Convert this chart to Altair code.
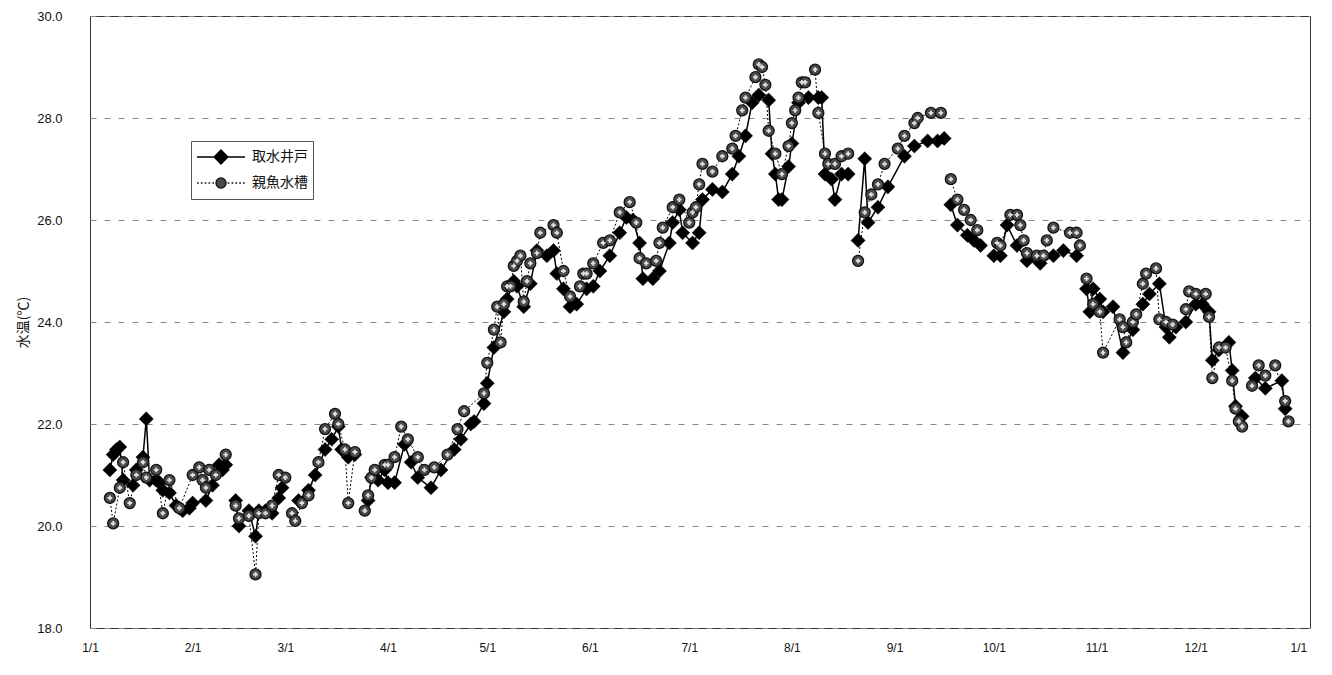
import altair as alt
import pandas as pd

series_names = ["取水井戸", "親魚水槽"]
month_days = [0, 31, 59, 90, 120, 151, 181, 212, 243, 273, 304, 334, 365]
month_labels = ["1/1", "2/1", "3/1", "4/1", "5/1", "6/1", "7/1", "8/1",
                "9/1", "10/1", "11/1", "12/1", "1/1"]
y_ticks = [18, 20, 22, 24, 26, 28, 30]

# 取水井戸 (day of year, °C); None marks a break in the record
well_days = [6, 7, 8, 9, 10, 13, 14, 16, 17, 18, 20, 21, 22, 24, 26, 27, 28, 30, 31,
             35, 37, 39, 40, 41, 42, 44, 45, 48, 50, 51, 53, 55, 57, 58, 60,
             63, 66, 68, 71, 73, 75, 76, 78, 80, 82, 84, 85, 87, 89, 90,
             92, 95, 97, 99, 103, 106, 110, 112, 115, 116, 119, 120,
             122, 125, 126, 128, 129, 131, 133, 135, 138, 140, 141, 143, 145, 147, 150, 152,
             154, 157, 160, 162, 164, 166, 167, 170, 172, 175, 176, 178, 179, 182,
             184, 185, 188, 191, 194, 196, 198, 200, 202, 205, 206, 207, 208, 209, 211, 212,
             214, 217, 220, 221, 222, 224, 225, 227, 229, 230, 232, 234, 235, 238, 241,
             246, 249, 253, 256, 258, 259, 260, 262, 265, 267, 269, 271,
             273, 275, 277, 280, 283, 287, 291, 294, 298, 299,
             301, 302, 303, 305, 306, 309, 312, 315, 318, 320, 323, 325, 326, 328, 329, 331, 334,
             336, 338, 339, 341, 344, 345, 346, 348, 350, 352, 355, 360, 361]
well_vals = [21.1, 21.4, 21.5, 21.55, 20.9, 20.8, 21.1, 21.35, 22.1, 20.9, 20.9, 20.85, 20.7, 20.65, 20.4, 20.35, 20.3, 20.35, 20.45,
             20.5, 20.8, 21.2, 21.1, 21.2, None, 20.5, 20.0, 20.3, 19.8, 20.3, 20.3, 20.25, 20.55, 20.75, None,
             20.5, 20.7, 21.0, 21.5, 21.7, 21.95, 21.5, 21.35, 21.4, None, 20.5, 20.95, 20.9, 21.1, 20.85,
             20.85, 21.6, 21.25, 20.95, 20.75, 21.1, 21.5, 21.7, 22.0, 22.05, 22.4, 22.8,
             23.5, 24.2, 24.45, 24.8, 24.7, 24.3, 24.75, 25.4, 25.3, 25.4, 24.95, 24.65, 24.3, 24.35, 24.65, 24.7,
             25.0, 25.3, 25.75, 26.05, 26.0, 25.55, 24.85, 24.85, 25.0, 25.55, 25.95, 26.2, 25.75, 25.55,
             25.75, 26.4, 26.6, 26.55, 26.9, 27.25, 27.65, 28.3, 28.45, 28.35, 27.3, 26.9, 26.4, 26.4, 27.05, 27.5,
             28.3, 28.4, 28.4, 28.4, 26.9, 26.8, 26.4, 26.9, 26.9, None, 25.6, 27.2, 25.95, 26.25, 26.65,
             27.25, 27.45, 27.55, 27.55, 27.6, None, 26.3, 25.9, 25.7, 25.6, 25.5, None,
             25.3, 25.3, 25.9, 25.5, 25.2, 25.15, 25.3, 25.4, 25.3, None,
             24.65, 24.2, 24.65, 24.45, 24.2, 24.3, 23.4, 23.85, 24.35, 24.55, 24.75, 23.9, 23.7, 23.9, None, 24.0, 24.35,
             24.35, 24.2, 23.25, 23.45, 23.6, 23.05, 22.35, 22.15, None, 22.9, 22.7, 22.85, 22.3]

# 親魚水槽
tank_days = [6, 7, 9, 10, 12, 14, 16, 17, 20, 22, 24, 27, 31,
             33, 34, 35, 36, 38, 41, 42, 44, 45, 48, 50, 51, 53, 55, 57, 59, 60,
             61, 62, 64, 66, 69, 71, 74, 75, 77, 78, 80, 82, 83, 84, 85, 86, 89, 90,
             92, 94, 96, 99, 101, 104, 108, 111, 113, 119, 120,
             122, 123, 124, 125, 126, 127, 128, 129, 130, 131, 132, 133, 135, 136, 140, 141, 143, 145, 148, 149, 150,
             152, 155, 157, 160, 163, 165, 166, 168, 171, 172, 173, 176, 178, 181, 182,
             183, 184, 185, 188, 191, 194, 195, 197, 198, 201, 202, 203, 204, 205, 207, 209, 211, 212,
             213, 214, 215, 216, 219, 220, 222, 223, 225, 227, 229, 230, 232, 234, 236, 238, 240, 244,
             246, 249, 250, 254, 257, 258, 260, 262, 264, 266, 268, 270,
             274, 275, 278, 280, 281, 282, 283, 286, 288, 289, 291, 296, 298, 299, 300,
             301, 303, 305, 306, 311, 312, 313, 315, 316, 318, 319, 322, 323, 325, 327, 329,
             331, 332, 334, 337, 338, 339, 341, 343, 345, 346, 347, 348, 349,
             351, 353, 355, 358, 361, 362]
tank_vals = [20.55, 20.05, 20.75, 21.25, 20.45, 21.0, 21.25, 20.95, 21.1, 20.25, 20.9, 20.35, 21.0,
             21.15, 20.9, 20.75, 21.1, 21.0, 21.4, None, 20.4, 20.15, 20.2, 19.05, 20.25, 20.25, 20.4, 21.0, 20.95, None,
             20.25, 20.1, 20.45, 20.6, 21.25, 21.9, 22.2, 22.0, 21.5, 20.45, 21.45, None, 20.3, 20.6, 20.95, 21.1, 21.2, 21.2,
             21.35, 21.95, 21.7, 21.35, 21.1, 21.15, 21.4, 21.9, 22.25, 22.6, 23.2,
             23.85, 24.3, 23.6, 24.35, 24.7, 24.7, 25.1, 25.2, 25.3, 24.4, 24.8, 25.15, 25.35, 25.75, 25.9, 25.75, 25.0, 24.5, 24.7, 24.95, 24.95,
             25.15, 25.55, 25.6, 26.15, 26.35, 25.95, 25.25, 25.15, 25.2, 25.55, 25.85, 26.25, 26.4, 25.95, 26.15,
             26.25, 26.7, 27.1, 26.95, 27.25, 27.4, 27.65, 28.15, 28.4, 28.8, 29.05, 29.0, 28.65, 27.75, 27.3, 26.9, 27.45, 27.9,
             28.15, 28.4, 28.7, 28.7, 28.95, 28.1, 27.3, 27.1, 27.1, 27.25, 27.3, None, 25.2, 26.15, 26.5, 26.7, 27.1, 27.4,
             27.65, 27.9, 28.0, 28.1, 28.1, None, 26.8, 26.4, 26.2, 26.0, 25.8, None,
             25.55, 25.5, 26.1, 26.1, 25.9, 25.6, 25.35, 25.3, 25.3, 25.6, 25.85, 25.75, 25.75, 25.5, None,
             24.85, 24.35, 24.2, 23.4, 24.05, 23.9, 23.6, 24.0, 24.15, 24.75, 24.95, 25.05, 24.05, 24.0, 23.95, None,
             24.25, 24.6, 24.55, 24.55, 24.1, 22.9, 23.5, 23.5, 22.85, 22.3, 22.05, 21.95, None,
             22.75, 23.15, 22.95, 23.15, 22.45, 22.05]


def to_frame(days, vals, name):
    rows, seg = [], 0
    for d, v in zip(days, vals):
        if v is None:
            seg += 1
            continue
        rows.append({"day": d, "temp": v, "seg": seg, "series": name})
    return pd.DataFrame(rows)


df_w = to_frame(well_days, well_vals, series_names[0])
df_t = to_frame(tank_days, tank_vals, series_names[1])
df_all = pd.concat([df_w, df_t], ignore_index=True)

label_expr = ("[" + ",".join("'%s'" % s for s in month_labels) + "][indexof(["
              + ",".join(str(d) for d in month_days) + "], datum.value)]")

x_enc = alt.X("day:Q",
              scale=alt.Scale(domain=[0, 368.5], nice=False, zero=False),
              axis=alt.Axis(values=month_days, labelExpr=label_expr, title=None,
                            grid=False, domain=False, ticks=False, labelPadding=14,
                            labelFontSize=12, labelFont="Liberation Sans",
                            labelColor="#111", labelFlush=False))
y_enc = alt.Y("temp:Q",
              scale=alt.Scale(domain=[18, 30], nice=False, zero=False),
              axis=alt.Axis(values=y_ticks, format=".1f", title="水温(℃)",
                            grid=True, gridDash=[6, 8], gridColor="#8a8a8a",
                            domain=False, ticks=False, labelPadding=28,
                            labelFontSize=13, labelFont="Liberation Sans",
                            labelColor="#111", titleFont="Noto Sans CJK JP",
                            titleFontSize=14, titleFontWeight="normal",
                            titleColor="#111", titlePadding=6))

line_w = alt.Chart(df_w).mark_line(color="black", strokeWidth=1.5).encode(
    x=x_enc, y=y_enc, detail="seg:N")
pts_w = alt.Chart(df_w).mark_point(shape="diamond", filled=True, size=200,
                                    fill="black", stroke="black", strokeWidth=0.5,
                                    opacity=1).encode(x=x_enc, y=y_enc)
line_t = alt.Chart(df_t).mark_line(color="black", strokeWidth=1,
                                   strokeDash=[2, 2]).encode(
    x=x_enc, y=y_enc, detail="seg:N")
pts_t = alt.Chart(df_t).mark_point(shape="circle", filled=True, size=120,
                                    fill="#4a4a4a", stroke="#111", strokeWidth=1.3,
                                    opacity=1).encode(x=x_enc, y=y_enc)
speck_t = alt.Chart(df_t).mark_point(shape="cross", filled=True, size=22,
                                      fill="#e0e0e0", opacity=1).encode(x=x_enc, y=y_enc)

# legend symbols (line + marker) as custom shapes
path_w = "M-1,0H1M0,-0.29L0.29,0L0,0.29L-0.29,0Z"
dashes = " ".join("M%.3f,0h0.07" % (-1 + 0.16 * i) for i in range(13)
                  if abs(-1 + 0.16 * i + 0.035) > 0.25)
path_t = dashes + " M-0.21,0A0.21,0.21 0 1,0 0.21,0A0.21,0.21 0 1,0 -0.21,0Z"

legend_def = alt.Legend(orient="none", legendX=101, legendY=125, title=None,
                        symbolSize=2304, clipHeight=22, rowPadding=4,
                        labelFont="Noto Sans CJK JP", labelFontSize=14,
                        labelColor="#111", strokeColor="#555", padding=5,
                        labelOffset=6, symbolStrokeWidth=1.3, symbolOpacity=1)
legend_layer = alt.Chart(df_all).transform_filter("datum.temp < 0").mark_point(
    filled=True, strokeWidth=1.3, opacity=1).encode(
    x=x_enc, y=y_enc,
    shape=alt.Shape("series:N", scale=alt.Scale(domain=series_names,
                                                 range=[path_w, path_t]),
                    legend=legend_def),
    fill=alt.Fill("series:N", scale=alt.Scale(domain=series_names,
                                               range=["black", "#4a4a4a"]),
                  legend=legend_def),
    stroke=alt.Stroke("series:N", scale=alt.Scale(domain=series_names,
                                                   range=["black", "#111"]),
                      legend=legend_def))

chart = alt.layer(line_w, pts_w, line_t, pts_t, speck_t, legend_layer).properties(
    width=1220, height=612,
    autosize=alt.AutoSizeParams(type="none"),
    padding={"left": 82, "top": 8, "right": 14, "bottom": 39},
    background="white",
).configure_view(stroke="#333", strokeWidth=1)

chart.save("out.html", embed_options={"renderer": "svg", "actions": False})
